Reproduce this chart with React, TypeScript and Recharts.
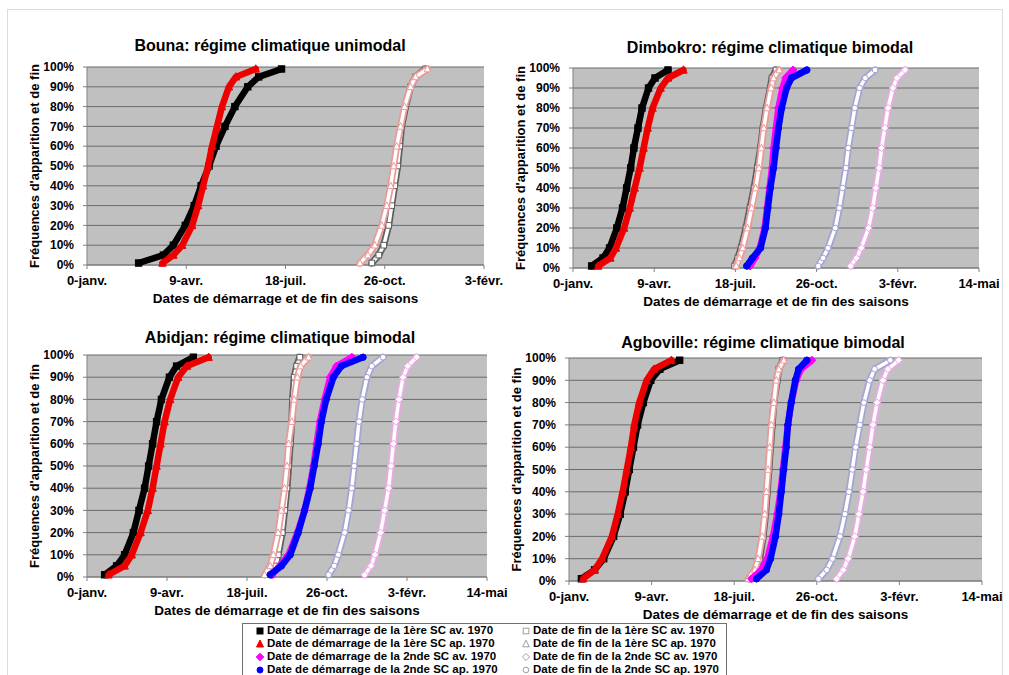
import React from "react";
import { ScatterChart, Scatter, XAxis, YAxis, CartesianGrid } from "recharts";

// cumulative frequency levels read on each curve
const pct = [0.01, 0.05, 0.1, 0.2, 0.3, 0.4, 0.5, 0.6, 0.7, 0.8, 0.9, 0.95, 0.99];

// x axis: day number (Excel date serial), y axis: frequency
const dateTicks = [0, 100, 200, 300, 400, 500];
const dateLabels = ["0-janv.", "9-avr.", "18-juil.", "26-oct.", "3-févr.", "14-mai"];
const pctTicks = [0, 0.1, 0.2, 0.3, 0.4, 0.5, 0.6, 0.7, 0.8, 0.9, 1];

// Bouna (unimodal)
const bounaDeb1Av = [52, 77, 87, 99, 108, 115, 123, 130, 139, 149, 162, 173, 196];
const bounaDeb1Ap = [76, 87, 96, 106, 112, 117, 122, 126, 131, 136, 143, 150, 170];
const bounaFin1Av = [287, 294, 299, 304, 307, 310, 313, 315, 317, 321, 326, 331, 341];
const bounaFin1Ap = [275, 283, 290, 297, 302, 306, 309, 312, 316, 320, 326, 331, 343];

// Dimbokro
const dimbDeb1Av = [23, 37, 45, 54, 61, 66, 71, 75, 80, 85, 93, 101, 117];
const dimbDeb1Ap = [31, 46, 53, 63, 70, 76, 82, 87, 92, 98, 108, 117, 136];
const dimbFin1Av = [199, 203, 207, 213, 218, 223, 227, 231, 234, 238, 243, 245, 250];
const dimbFin1Ap = [201, 205, 209, 215, 220, 225, 229, 232, 235, 239, 244, 247, 254];
const dimbDeb2Av = [218, 224, 230, 236, 239, 242, 245, 247, 250, 253, 258, 262, 271];
const dimbDeb2Ap = [214, 221, 231, 237, 240, 243, 247, 250, 253, 257, 263, 269, 288];
const dimbFin2Av = [342, 349, 355, 364, 369, 373, 377, 380, 384, 388, 394, 399, 409];
const dimbFin2Ap = [302, 308, 314, 323, 328, 332, 336, 339, 343, 347, 353, 360, 372];

// Abidjan
const abiDeb1Av = [22, 37, 47, 58, 65, 72, 77, 82, 87, 93, 103, 112, 133];
const abiDeb1Ap = [27, 47, 56, 67, 76, 82, 87, 92, 97, 104, 114, 125, 152];
const abiFin1Av = [231, 236, 239, 244, 247, 250, 252, 254, 256, 257, 259, 262, 266];
const abiFin1Ap = [222, 229, 233, 239, 243, 247, 250, 252, 256, 259, 263, 267, 277];
const abiDeb2Av = [231, 241, 252, 263, 272, 278, 283, 287, 291, 297, 304, 312, 331];
const abiDeb2Ap = [229, 243, 254, 264, 272, 279, 284, 289, 293, 299, 308, 318, 345];
const abiFin2Av = [347, 355, 360, 367, 372, 377, 380, 383, 386, 390, 395, 401, 412];
const abiFin2Ap = [302, 309, 314, 322, 327, 331, 334, 337, 340, 344, 350, 356, 370];

// Agboville
const agbDeb1Av = [15, 31, 42, 54, 62, 68, 73, 78, 83, 90, 99, 110, 134];
const agbDeb1Ap = [17, 31, 40, 52, 59, 65, 70, 75, 79, 85, 94, 103, 124];
const agbFin1Av = [219, 227, 231, 235, 238, 240, 242, 244, 246, 248, 252, 254, 259];
const agbFin1Ap = [217, 225, 229, 234, 237, 239, 241, 243, 245, 248, 251, 254, 260];
const agbDeb2Av = [221, 233, 240, 247, 252, 256, 259, 262, 265, 269, 275, 281, 294];
const agbDeb2Ap = [227, 239, 244, 250, 254, 257, 260, 263, 265, 269, 274, 278, 288];
const agbFin2Av = [324, 332, 338, 346, 351, 356, 360, 364, 368, 373, 380, 386, 399];
const agbFin2Ap = [302, 312, 319, 328, 334, 339, 343, 347, 352, 357, 364, 370, 389];

const FONT = '"Liberation Sans", Arial, sans-serif';
const xTitle = "Dates de démarrage et de fin des saisons";
const yTitle = "Fréquences d'apparition et de fin";

type Kind = "square" | "triangle" | "diamond" | "circle";
interface SeriesStyle { color: string; kind: Kind; hollow: boolean; label: string }

const styles: Record<string, SeriesStyle> = {
  deb1Av: { color: "#000000", kind: "square", hollow: false, label: "Date de démarrage de la 1ère SC av. 1970" },
  deb1Ap: { color: "#ee0000", kind: "triangle", hollow: false, label: "Date de démarrage de la 1ère SC ap. 1970" },
  deb2Av: { color: "#ff00ff", kind: "diamond", hollow: false, label: "Date de démarrage de la 2nde SC av. 1970" },
  deb2Ap: { color: "#0000ff", kind: "circle", hollow: false, label: "Date de démarrage de la 2nde SC ap. 1970" },
  fin1Av: { color: "#606060", kind: "square", hollow: true, label: "Date de fin de la 1ère SC av. 1970" },
  fin1Ap: { color: "#e89a9a", kind: "triangle", hollow: true, label: "Date de fin de la 1ère SC ap. 1970" },
  fin2Av: { color: "#eaa8e4", kind: "diamond", hollow: true, label: "Date de fin de la 2nde SC av. 1970" },
  fin2Ap: { color: "#a4a4d4", kind: "circle", hollow: true, label: "Date de fin de la 2nde SC ap. 1970" },
};

const toPoints = (days: number[]) => days.map((d, i) => ({ x: d, y: pct[i] }));

const markerEl = (kind: Kind, cx: number, cy: number, s: number, fill: string, stroke: string) => {
  switch (kind) {
    case "square":
      return <rect x={cx - s} y={cy - s} width={2 * s} height={2 * s} fill={fill} stroke={stroke} strokeWidth={1} />;
    case "triangle":
      return <polygon points={`${cx},${cy - s - 1} ${cx + s + 0.5},${cy + s} ${cx - s - 0.5},${cy + s}`} fill={fill} stroke={stroke} strokeWidth={1} />;
    case "diamond":
      return <polygon points={`${cx},${cy - s - 0.8} ${cx + s + 0.8},${cy} ${cx},${cy + s + 0.8} ${cx - s - 0.8},${cy}`} fill={fill} stroke={stroke} strokeWidth={1} />;
    default:
      return <circle cx={cx} cy={cy} r={s} fill={fill} stroke={stroke} strokeWidth={1} />;
  }
};

const shapeFor = (st: SeriesStyle) => (props: any) => {
  const { cx, cy } = props;
  if (cx == null || cy == null) return <g />;
  return st.hollow
    ? markerEl(st.kind, cx, cy, 2.8, "#ffffff", st.color)
    : markerEl(st.kind, cx, cy, 3.2, st.color, st.color);
};

const noShape = () => <g />;

interface PanelDef {
  title: string;
  plot: [number, number, number, number]; // page coords of the plot area
  titleAt: [number, number];
  xMax: number;
  series: { key: string; days: number[] }[];
}

const panels: PanelDef[] = [
  {
    title: "Bouna: régime climatique unimodal",
    plot: [87, 67, 484, 265], titleAt: [270, 46], xMax: 400,
    series: [
      { key: "deb1Av", days: bounaDeb1Av }, { key: "deb1Ap", days: bounaDeb1Ap },
      { key: "fin1Av", days: bounaFin1Av }, { key: "fin1Ap", days: bounaFin1Ap },
    ],
  },
  {
    title: "Dimbokro: régime climatique bimodal",
    plot: [573, 68, 979, 268], titleAt: [770, 48], xMax: 500,
    series: [
      { key: "deb1Av", days: dimbDeb1Av }, { key: "deb1Ap", days: dimbDeb1Ap },
      { key: "fin1Av", days: dimbFin1Av }, { key: "fin1Ap", days: dimbFin1Ap },
      { key: "deb2Av", days: dimbDeb2Av }, { key: "deb2Ap", days: dimbDeb2Ap },
      { key: "fin2Av", days: dimbFin2Av }, { key: "fin2Ap", days: dimbFin2Ap },
    ],
  },
  {
    title: "Abidjan: régime climatique bimodal",
    plot: [87, 355, 487, 577], titleAt: [280, 338], xMax: 500,
    series: [
      { key: "deb1Av", days: abiDeb1Av }, { key: "deb1Ap", days: abiDeb1Ap },
      { key: "fin1Av", days: abiFin1Av }, { key: "fin1Ap", days: abiFin1Ap },
      { key: "deb2Av", days: abiDeb2Av }, { key: "deb2Ap", days: abiDeb2Ap },
      { key: "fin2Av", days: abiFin2Av }, { key: "fin2Ap", days: abiFin2Ap },
    ],
  },
  {
    title: "Agboville: régime climatique bimodal",
    plot: [569, 358, 982, 581], titleAt: [763, 343], xMax: 500,
    series: [
      { key: "deb1Av", days: agbDeb1Av }, { key: "deb1Ap", days: agbDeb1Ap },
      { key: "fin1Av", days: agbFin1Av }, { key: "fin1Ap", days: agbFin1Ap },
      { key: "deb2Av", days: agbDeb2Av }, { key: "deb2Ap", days: agbDeb2Ap },
      { key: "fin2Av", days: agbFin2Av }, { key: "fin2Ap", days: agbFin2Ap },
    ],
  },
];

const YW = 80;
const XH = 40;
const MT = 10;
const MR = 28;

const xTickStyle = { fontSize: 13, fontWeight: "bold", fill: "#000", fontFamily: FONT };
const yTickStyle = { fontSize: 12, fontWeight: "bold", fill: "#000", fontFamily: FONT };
const xLabelStyle = { fontSize: 13.5, fontWeight: "bold", fill: "#000", fontFamily: FONT };
const yLabelStyle = { fontSize: 13, fontWeight: "bold", fill: "#000", fontFamily: FONT, textAnchor: "middle" };

const Panel: React.FC<{ def: PanelDef }> = ({ def }) => {
  const [x0, y0, x1, y1] = def.plot;
  const w = YW + (x1 - x0) + MR;
  const h = MT + (y1 - y0) + XH;
  const ticks = dateTicks.filter((t) => t <= def.xMax);
  return (
    <>
      <div
        style={{
          position: "absolute", left: def.titleAt[0] - 200, width: 400, top: def.titleAt[1] - 10,
          textAlign: "center", fontFamily: FONT, fontWeight: "bold", fontSize: 16, lineHeight: "20px", color: "#000",
        }}
      >
        {def.title}
      </div>
      <div style={{ position: "absolute", left: x0 - YW, top: y0 - MT }}>
        <ScatterChart width={w} height={h} margin={{ top: MT, right: MR, bottom: 0, left: 0 }}>
          <CartesianGrid vertical={false} fill="#c0c0c0" fillOpacity={1} stroke="#6a6a6a" />
          <XAxis
            type="number" dataKey="x" domain={[0, def.xMax]} ticks={ticks} interval={0}
            tickFormatter={(v: number) => dateLabels[dateTicks.indexOf(v)]}
            height={XH} tickSize={4} tickMargin={7} tick={xTickStyle}
            axisLine={{ stroke: "#808080" }} tickLine={{ stroke: "#808080" }}
            label={{ value: xTitle, position: "insideBottom", offset: 2, style: xLabelStyle }}
          />
          <YAxis
            type="number" dataKey="y" domain={[0, 1]} ticks={pctTicks} interval={0}
            tickFormatter={(v: number) => `${Math.round(v * 100)}%`}
            width={YW} tickSize={4} tickMargin={9} tick={yTickStyle}
            axisLine={{ stroke: "#808080" }} tickLine={{ stroke: "#808080" }}
            label={{ value: yTitle, angle: -90, position: "insideLeft", offset: 27, style: yLabelStyle }}
          />
          {def.series.map((s) => {
            const st = styles[s.key];
            const data = toPoints(s.days);
            if (st.hollow) {
              return (
                <React.Fragment key={s.key}>
                  <Scatter
                    data={data} isAnimationActive={false} shape={noShape}
                    line={{ stroke: st.color, strokeWidth: 7, strokeLinejoin: "round", strokeLinecap: "round" }}
                  />
                  <Scatter
                    data={data} isAnimationActive={false} shape={shapeFor(st)}
                    line={{ stroke: "#ffffff", strokeWidth: 3.5, strokeLinejoin: "round", strokeLinecap: "round" }}
                  />
                </React.Fragment>
              );
            }
            return (
              <Scatter
                key={s.key} data={data} isAnimationActive={false} shape={shapeFor(st)}
                line={{ stroke: st.color, strokeWidth: 6.5, strokeLinejoin: "round", strokeLinecap: "round" }}
              />
            );
          })}
        </ScatterChart>
      </div>
    </>
  );
};

const legendRows = [
  ["deb1Av", "fin1Av"],
  ["deb1Ap", "fin1Ap"],
  ["deb2Av", "fin2Av"],
  ["deb2Ap", "fin2Ap"],
];

const LegendBox: React.FC = () => (
  <div
    style={{
      position: "absolute", left: 242, top: 623, width: 485, height: 60,
      border: "1px solid #707070", background: "#fff", boxSizing: "border-box",
    }}
  >
    {legendRows.map((row, r) =>
      row.map((key, c) => {
        const st = styles[key];
        const left = c === 0 ? 12 : 278;
        return (
          <div
            key={key}
            style={{
              position: "absolute", left, top: r * 13, height: 13, display: "flex", alignItems: "center",
              fontFamily: FONT, fontWeight: "bold", fontSize: 11.5, lineHeight: "13px", color: "#000", whiteSpace: "nowrap",
            }}
          >
            <svg width={10} height={10} style={{ marginRight: 2 }}>
              {st.hollow
                ? markerEl(st.kind, 5, 5, 2.8, "#ffffff", "#a0a0a0")
                : markerEl(st.kind, 5, 5, 3, st.color, st.color)}
            </svg>
            {st.label}
          </div>
        );
      })
    )}
  </div>
);

const App: React.FC = () => {
  return (
    <div style={{ position: "absolute", left: 0, top: 0, width: 1009, height: 675, overflow: "hidden", background: "#fff" }}>
      <div style={{ position: "absolute", left: 7, top: 9, width: 994, height: 700, border: "1px solid #dcdcdc" }} />
      {panels.map((p) => (
        <Panel key={p.title} def={p} />
      ))}
      <LegendBox />
    </div>
  );
};

export default App;
